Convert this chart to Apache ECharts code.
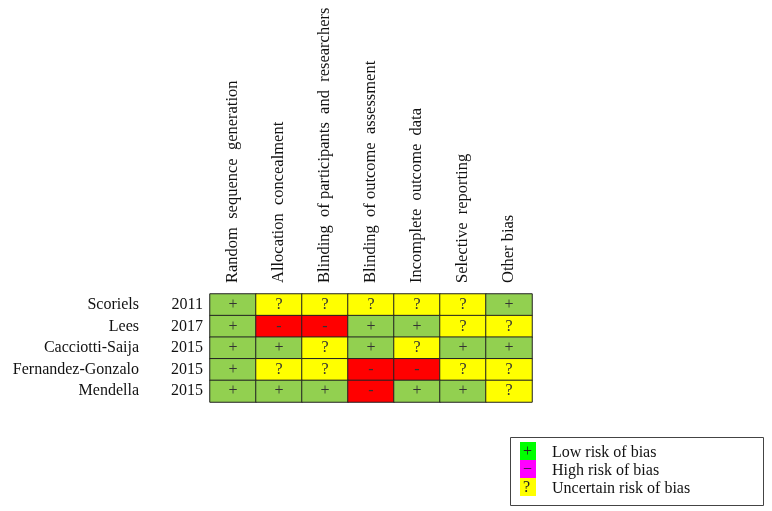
<!DOCTYPE html>
<html>
<head>
<meta charset="utf-8">
<script src="https://cdn.jsdelivr.net/npm/echarts@6/dist/echarts.min.js"></script>
<style>
  html, body { margin: 0; padding: 0; background: #fff; }
  #main { width: 772px; height: 511px; }
</style>
</head>
<body>
<div id="main"></div>
<script>
// risk of bias domains (columns)
var domains = [
  'Random  sequence  generation',
  'Allocation  concealment',
  'Blinding  of participants  and  researchers',
  'Blinding  of outcome  assessment',
  'Incomplete  outcome  data',
  'Selective  reporting',
  'Other bias'
];
// studies (rows)
var studies = ['Scoriels', 'Lees', 'Cacciotti-Saija', 'Fernandez-Gonzalo', 'Mendella'];
var years = ['2011', '2017', '2015', '2015', '2015'];
// judgement per study, one per domain
var judgements = [
  ['+', '?', '?', '?', '?', '?', '+'],
  ['+', '-', '-', '+', '+', '?', '?'],
  ['+', '+', '?', '+', '?', '+', '+'],
  ['+', '?', '?', '-', '-', '?', '?'],
  ['+', '+', '+', '-', '+', '+', '?']
];
var marks = ['+', '-', '?'];
var cellColors = ['#92d050', '#ff0000', '#ffff00'];

var legendItems = [
  { sym: '+', color: '#00ff00', text: 'Low risk of bias' },
  { sym: '\u2212', color: '#ff00ff', text: 'High risk of bias' },
  { sym: '?', color: '#ffff00', text: 'Uncertain risk of bias' }
];

var serif = '"Liberation Serif", "Times New Roman", serif';

var data = [];
judgements.forEach(function (row, y) {
  row.forEach(function (j, x) {
    data.push([x, y, marks.indexOf(j)]);
  });
});

// legend box drawn as graphic
var legendGraphic = [{
  type: 'rect', left: 510, top: 437,
  shape: { width: 253, height: 68 },
  style: { fill: '#fff', stroke: '#444', lineWidth: 1 }
}];
legendItems.forEach(function (it, i) {
  var top = 442 + i * 18;
  legendGraphic.push({
    type: 'rect', left: 520, top: top,
    shape: { width: 16, height: 18 },
    style: { fill: it.color }
  });
  legendGraphic.push({
    type: 'text', left: 523, top: top + 2,
    style: { text: it.sym, font: '16px ' + serif, fill: '#222' }
  });
  legendGraphic.push({
    type: 'text', left: 552, top: top + 3,
    style: { text: it.text, font: '16px ' + serif, fill: '#111' }
  });
});

var chart = echarts.init(document.getElementById('main'));
chart.setOption({
  animation: false,
  backgroundColor: '#fff',
  grid: { left: 210, right: 240, top: 294, bottom: 109, outerBoundsMode: 'none', containLabel: false },
  xAxis: {
    type: 'category',
    position: 'top',
    data: domains,
    axisLine: { show: false },
    axisTick: { show: false },
    splitLine: { show: false },
    axisLabel: {
      rotate: -90, interval: 0, margin: 11,
      fontFamily: serif, fontSize: 16.5, color: '#111'
    }
  },
  yAxis: {
    type: 'category',
    inverse: true,
    data: studies,
    axisLine: { show: false },
    axisTick: { show: false },
    axisLabel: {
      margin: 7,
      formatter: function (v, i) {
        return '{n|' + v + '}{y|' + years[i] + '}';
      },
      rich: {
        n: { fontFamily: serif, fontSize: 16, color: '#111', width: 130, align: 'right' },
        y: { fontFamily: serif, fontSize: 16, color: '#111', width: 64, align: 'right' }
      }
    }
  },
  visualMap: {
    type: 'piecewise',
    show: false,
    dimension: 2,
    pieces: [
      { value: 0, color: cellColors[0] },
      { value: 1, color: cellColors[1] },
      { value: 2, color: cellColors[2] }
    ]
  },
  series: [{
    type: 'heatmap',
    data: data,
    itemStyle: { borderColor: '#222', borderWidth: 1 },
    label: {
      show: true,
      fontFamily: serif, fontSize: 16, color: '#333',
      formatter: function (p) { return marks[p.value[2]]; }
    },
    emphasis: { disabled: true }
  }],
  graphic: legendGraphic
});
</script>
</body>
</html>
